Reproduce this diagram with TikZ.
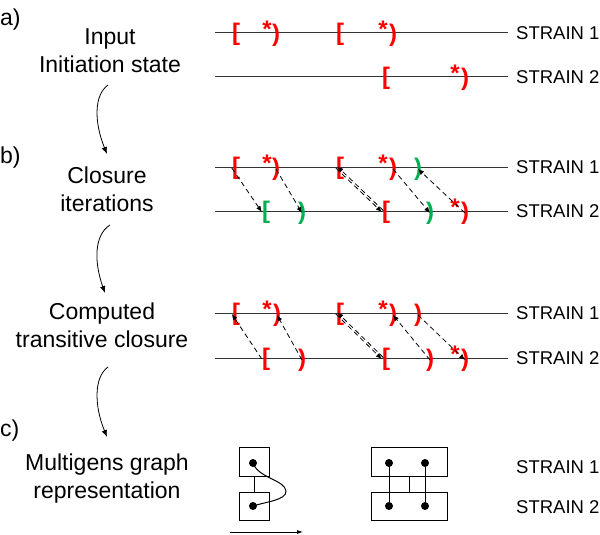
\documentclass[tikz,border=0pt]{standalone}
\usepackage{fontspec}
\setmainfont{Liberation Sans}
\usetikzlibrary{arrows.meta, calc}

\definecolor{brkred}{RGB}{255,0,0}
\definecolor{brkgreen}{RGB}{0,176,80}

\begin{document}
\begin{tikzpicture}[x=1pt, y=-1pt,
	strand/.style={line width=1pt, black!80},
	brk/.style={inner sep=0pt, font=\fontsize{24}{24}\selectfont\bfseries},
	rbrk/.style={brk, text=brkred},
	gbrk/.style={brk, text=brkgreen},
	rstar/.style={brk, text=brkred},
	link/.style={dashed, dash pattern=on 5pt off 3.5pt, line width=0.8pt, -{Latex[length=6pt,width=5pt]}},
	flow/.style={line width=0.8pt, -{Latex[length=7pt,width=5.5pt]}},
	strainlbl/.style={anchor=west, inner sep=0pt, font=\fontsize{18.5}{18.5}\selectfont},
	desc/.style={anchor=north, inner sep=0pt, align=center, font=\fontsize{23}{28}\selectfont},
	panel/.style={anchor=west, inner sep=0pt, font=\fontsize{23}{28}\selectfont},
	gbox/.style={draw, line width=1pt, inner sep=0pt},
	dot/.style={circle, fill, inner sep=0pt, minimum size=8pt}]

	% Parameters
	\def\xstart{215}
	\def\xend{508}
	\def\xlabel{516}

	\useasboundingbox (0,0) rectangle (600,535);

	% Panel letters and descriptions
	\node[panel] (pa) at (0,20) {a)};
	\node[panel] (pb) at (0,158) {b)};
	\node[panel] (pc) at (0,431) {c)};

	\node[desc] (input) at (110,28) {Input\\Initiation state};
	\node[desc] (closure) at (107,167) {Closure\\iterations};
	\node[desc] (computed) at (102,303) {Computed\\transitive closure};
	\node[desc] (multi) at (107,454) {Multigens graph\\representation};

	% Flow arrows between the steps
	\coordinate (f1a) at (108,85);  \coordinate (f1b) at (107,154);
	\coordinate (f2a) at (110,225); \coordinate (f2b) at (105,293);
	\coordinate (f3a) at (108,367); \coordinate (f3b) at (107,437);
	\draw[flow] (f1a) .. controls (94,95) and (94,122) .. (f1b);
	\draw[flow] (f2a) .. controls (94,235) and (94,262) .. (f2b);
	\draw[flow] (f3a) .. controls (94,377) and (94,405) .. (f3b);

	% Strain lines and labels
	\foreach \n/\y/\k in {a1/33/1, a2/77/2, b1/167/1, b2/211/2, t1/313/1, t2/358/2} {
		\draw[strand] (\xstart,\y) coordinate (L\n) -- (\xend,\y) coordinate (R\n);
		\node[strainlbl] (lab\n) at (\xlabel,\y) {STRAIN \k};
	}

	% a) input state
	\node[rbrk] (a1o1) at (236,34) {[};
	\node[rstar] (a1s1) at (267,29) {*};
	\node[rbrk] (a1c1) at (276,35) {)};
	\node[rbrk] (a1o2) at (340,34) {[};
	\node[rstar] (a1s2) at (383,29) {*};
	\node[rbrk] (a1c2) at (393,35) {)};
	\node[rbrk] (a2o1) at (386,78) {[};
	\node[rstar] (a2s1) at (455,73) {*};
	\node[rbrk] (a2c1) at (465,79) {)};

	% b) closure iterations
	\node[rbrk] (b1o1) at (236,168) {[};
	\node[rstar] (b1s1) at (267,163) {*};
	\node[rbrk] (b1c1) at (276,169) {)};
	\node[rbrk] (b1o2) at (340,168) {[};
	\node[rstar] (b1s2) at (383,163) {*};
	\node[rbrk] (b1c2) at (393,169) {)};
	\node[gbrk] (b1c3) at (418,169) {)};
	\node[gbrk] (b2o1) at (266,212) {[};
	\node[gbrk] (b2c1) at (302,213) {)};
	\node[rbrk] (b2o2) at (386,212) {[};
	\node[gbrk] (b2c2) at (430,213) {)};
	\node[rstar] (b2s3) at (455,207) {*};
	\node[rbrk] (b2c3) at (465,213) {)};

	\draw[link] (b1o1.west) -- (b2o1.west);
	\draw[link] (b1c1.center) -- (b2c1.center);
	\draw[link] (b1o2.west) -- (b2o2.west);
	\draw[link] ([xshift=1.5pt,yshift=1.5pt]b2o2.west) -- ([xshift=1.5pt,yshift=1.5pt]b1o2.west);
	\draw[link] (b1c2.center) -- (b2c2.center);
	\draw[link] (b2c3.center) -- (b1c3.center);

	% computed transitive closure
	\node[rbrk] (t1o1) at (236,314) {[};
	\node[rstar] (t1s1) at (267,309) {*};
	\node[rbrk] (t1c1) at (277,315) {)};
	\node[rbrk] (t1o2) at (340,314) {[};
	\node[rstar] (t1s2) at (383,309) {*};
	\node[rbrk] (t1c2) at (393,315) {)};
	\node[rbrk] (t1c3) at (418,315) {)};
	\node[rbrk] (t2o1) at (266,359) {[};
	\node[rbrk] (t2c1) at (302,360) {)};
	\node[rbrk] (t2o2) at (386,359) {[};
	\node[rbrk] (t2c2) at (430,360) {)};
	\node[rstar] (t2s3) at (455,354) {*};
	\node[rbrk] (t2c3) at (465,360) {)};

	\draw[link] (t2o1.west) -- (t1o1.west);
	\draw[link] (t2c1.center) -- (t1c1.center);
	\draw[link] (t1o2.west) -- (t2o2.west);
	\draw[link] ([xshift=1.5pt,yshift=1.5pt]t2o2.west) -- ([xshift=1.5pt,yshift=1.5pt]t1o2.west);
	\draw[link] (t2c2.center) -- (t1c2.center);
	\draw[link] (t1c3.center) -- (t2c3.center);

	% c) multigens graph
	\node[gbox, minimum width=30pt, minimum height=29pt] (g1) at (254,461.5) {};
	\node[gbox, minimum width=30pt, minimum height=28pt] (g2) at (254,506) {};
	\node[dot] (g1d) at (253,463) {};
	\node[dot] (g2d) at (253,506) {};
	\draw[line width=1pt] (g1.south) -- (g2.north);
	\draw[line width=1pt] (g1d.center) .. controls (258,478) and (285,480) .. (286,491)
		.. controls (287,500) and (265,502) .. (g2d.center);
	\coordinate (ta) at (230,532);
	\coordinate (tb) at (303,532);
	\draw[line width=0.8pt, -{Latex[length=6pt,width=4pt]}] (ta) -- (tb);

	\node[gbox, minimum width=76pt, minimum height=29pt] (h1) at (409,461.5) {};
	\node[gbox, minimum width=76pt, minimum height=28pt] (h2) at (409,506) {};
	\node[dot] (h1a) at (389,463) {};
	\node[dot] (h1b) at (425,463) {};
	\node[dot] (h2a) at (389,506) {};
	\node[dot] (h2b) at (425,506) {};
	\draw[line width=1pt] (h1.south) -- (h2.north);
	\draw[line width=1pt] (h1a) -- (h2a);
	\draw[line width=1pt] (h1b) -- (h2b);

	\node[strainlbl] (labc1) at (\xlabel,467) {STRAIN 1};
	\node[strainlbl] (labc2) at (\xlabel,507) {STRAIN 2};

\end{tikzpicture}
\end{document}
